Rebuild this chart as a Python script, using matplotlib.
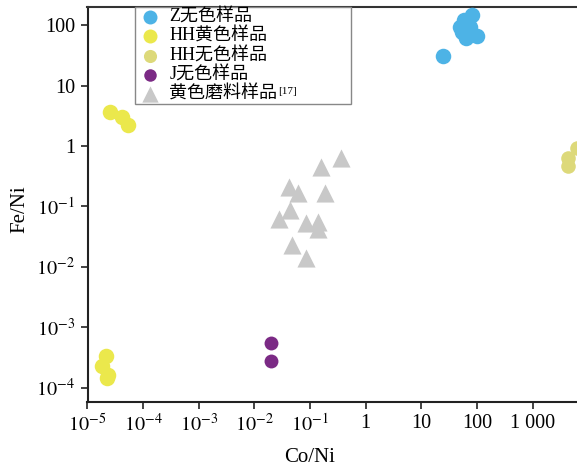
import matplotlib
matplotlib.use("Agg")
import matplotlib.pyplot as plt
import numpy as np

plt.rcParams["font.family"] = ["Liberation Serif", "Noto Sans CJK SC"]
plt.rcParams["mathtext.fontset"] = "stix"

# Z 无色样品
z_x = [24.8, 82.4, 59.1, 50.1, 54.4, 64.2, 101, 75.8]
z_y = [30.7, 146, 121, 92.7, 76.6, 61.0, 65.8, 92.7]
# HH 黄色样品
hhy_x = [2.54e-5, 4.12e-5, 5.42e-5, 2.15e-5, 1.82e-5, 2.24e-5, 2.3e-5]
hhy_y = [3.69, 3.05, 2.22, 3.38e-4, 2.34e-4, 1.45e-4, 1.6e-4]
# HH 无色样品
hhc_x = [4386, 4400, 6370]
hhc_y = [0.634, 0.467, 0.927]
# J 无色样品
j_x = [0.0196, 0.0196]
j_y = [5.55e-4, 2.79e-4]
# 黄色磨料样品 [17]
t_x = [0.362, 0.158, 0.0421, 0.0611, 0.187, 0.0438, 0.0278, 0.0851, 0.140, 0.140, 0.0476, 0.0851]
t_y = [0.634, 0.450, 0.210, 0.167, 0.167, 0.0875, 0.0621, 0.0533, 0.0554, 0.0425, 0.0231, 0.0141]

x_ticks = [1e-5, 1e-4, 1e-3, 1e-2, 1e-1, 1, 10, 100, 1000]
x_labels = [r"$10^{-5}$", r"$10^{-4}$", r"$10^{-3}$", r"$10^{-2}$", r"$10^{-1}$",
            "1", "10", "100", "1 000"]
y_ticks = [1e-4, 1e-3, 1e-2, 1e-1, 1, 10, 100]
y_labels = [r"$10^{-4}$", r"$10^{-3}$", r"$10^{-2}$", r"$10^{-1}$", "1", "10", "100"]

W, H = 577, 468
fig = plt.figure(figsize=(W / 100, H / 100), dpi=100)
left, right, top, bottom = 87.5, 577, 7, 401.5
ax = fig.add_axes([left / W, 1 - bottom / H, (right - left) / W, (bottom - top) / H])

ax.scatter(z_x, z_y, s=125, color="#4db3e6", linewidths=0, label="Z无色样品", zorder=3)
ax.scatter(hhy_x, hhy_y, s=125, color="#ebe84c", linewidths=0, label="HH黄色样品", zorder=3)
ax.scatter(hhc_x, hhc_y, s=110, color="#ddd97a", linewidths=0, label="HH无色样品", zorder=3)
ax.scatter(j_x, j_y, s=100, color="#7b2a85", linewidths=0, label="J无色样品", zorder=3)
ax.scatter(t_x, t_y, s=170, marker="^", color="#c8c8c8", linewidths=0,
           label="黄色磨料样品", zorder=3)

ax.set_xscale("log")
ax.set_yscale("log")
ax.set_xlim(1e-5, 10 ** 3.80)
ax.set_ylim(10 ** -4.226, 10 ** 2.30)
ax.set_xticks(x_ticks)
ax.set_xticklabels(x_labels)
ax.set_yticks(y_ticks)
ax.set_yticklabels(y_labels)
ax.minorticks_off()
ax.tick_params(direction="out", length=5, width=1.2, labelsize=14.5, pad=4, color="#222222")

for s in ["left", "bottom"]:
    ax.spines[s].set_linewidth(1.5)
    ax.spines[s].set_color("#222222")
ax.spines["top"].set_linewidth(1.5)
ax.spines["top"].set_color("#333333")
ax.spines["right"].set_visible(False)

ax.set_xlabel("Co/Ni", fontsize=15)
ax.set_ylabel("Fe/Ni", fontsize=15)
ax.xaxis.set_label_coords((310 - left) / (right - left), (bottom - 458) / (bottom - top))
ax.xaxis.label.set_va("center")
ax.yaxis.set_label_coords((20 - left) / (right - left), (bottom - 209) / (bottom - top))
ax.yaxis.label.set_va("center")

lx0 = (135 - left) / (right - left)
lx1 = (351 - left) / (right - left)
ly0 = (bottom - 100) / (bottom - top)
leg = ax.legend(loc="upper left", bbox_to_anchor=(lx0, ly0, lx1 - lx0, 1 - ly0), mode="expand",
                borderaxespad=0, frameon=True, fancybox=False, edgecolor="#888888",
                framealpha=1, fontsize=13, labelspacing=0.12, handletextpad=0.3,
                borderpad=0.1, handlelength=1.5, markerscale=0.9)
leg.get_frame().set_linewidth(1.0)

# superscript reference after the last legend entry
fig.canvas.draw()
bb = leg.get_texts()[-1].get_window_extent()
fig.text(bb.x1 / W + 0.002, bb.y1 / H - 0.002, "[17]", fontsize=8, va="top", ha="left")

fig.savefig("out.png", dpi=100)
